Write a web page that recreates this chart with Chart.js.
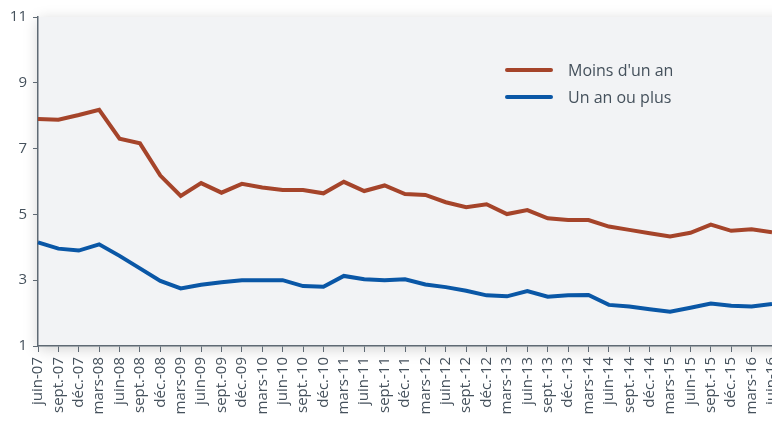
<!DOCTYPE html>
<html>
<head>
<meta charset="utf-8">
<script src="https://cdn.jsdelivr.net/npm/chart.js@4/dist/chart.umd.min.js"></script>
<style>
  html, body { margin: 0; padding: 0; background: #fff; }
  #wrap { width: 772px; height: 421px; }
</style>
</head>
<body>
<div id="wrap"><canvas id="graphique"></canvas></div>
<script>
// Trimestres
const trimestres = [
  'juin-07','sept.-07','déc.-07','mars-08','juin-08','sept.-08','déc.-08',
  'mars-09','juin-09','sept.-09','déc.-09','mars-10','juin-10','sept.-10','déc.-10',
  'mars-11','juin-11','sept.-11','déc.-11','mars-12','juin-12','sept.-12','déc.-12',
  'mars-13','juin-13','sept.-13','déc.-13','mars-14','juin-14','sept.-14','déc.-14',
  'mars-15','juin-15','sept.-15','déc.-15','mars-16','juin-16'
];

// Séries
const moinsUnAn = [
  7.90, 7.88, 8.02, 8.18, 7.30, 7.16, 6.18,
  5.56, 5.95, 5.66, 5.93, 5.82, 5.74, 5.74, 5.64,
  5.99, 5.71, 5.88, 5.62, 5.59, 5.37, 5.22, 5.31,
  5.01, 5.13, 4.88, 4.83, 4.83, 4.63, 4.53, 4.43,
  4.33, 4.44, 4.69, 4.50, 4.55, 4.46
];
const unAnOuPlus = [
  4.15, 3.96, 3.90, 4.09, 3.74, 3.36, 2.98,
  2.75, 2.86, 2.94, 3.00, 3.00, 3.00, 2.82, 2.80,
  3.13, 3.03, 3.00, 3.03, 2.87, 2.79, 2.68, 2.54,
  2.51, 2.67, 2.50, 2.54, 2.55, 2.25, 2.20, 2.12,
  2.04, 2.16, 2.29, 2.22, 2.20, 2.28
];
const ticksY = [1, 3, 5, 7, 9, 11];

const couleurTexte = '#45515c';
const couleurAxe = '#5f6a74';
const police = '"Open Sans", "Noto Sans", sans-serif';

// Fond gris de la zone de tracé, avec ombre
const fondZone = {
  id: 'fondZone',
  beforeDraw(chart) {
    const { ctx, chartArea: a } = chart;
    ctx.save();
    ctx.shadowColor = 'rgba(0,0,0,0.18)';
    ctx.shadowBlur = 14;
    ctx.shadowOffsetY = 3;
    ctx.fillStyle = '#f2f3f5';
    ctx.fillRect(a.left, a.top, a.right - a.left + 20, a.bottom - a.top);
    ctx.restore();
  }
};

// Légende dessinée dans la zone de tracé
const legendeInterne = {
  id: 'legendeInterne',
  afterDatasetsDraw(chart) {
    const ctx = chart.ctx;
    ctx.save();
    chart.data.datasets.forEach((ds, i) => {
      const y = 70 + i * 27;
      ctx.strokeStyle = ds.borderColor;
      ctx.lineWidth = 4;
      ctx.lineCap = 'round';
      ctx.beginPath();
      ctx.moveTo(507, y);
      ctx.lineTo(551, y);
      ctx.stroke();
      ctx.fillStyle = couleurTexte;
      ctx.font = '16px ' + police;
      ctx.textBaseline = 'middle';
      ctx.fillText(ds.label, 568, y + 1);
    });
    ctx.restore();
  }
};

new Chart(document.getElementById('graphique'), {
  type: 'line',
  data: {
    labels: trimestres,
    datasets: [
      {
        label: "Moins d'un an",
        data: moinsUnAn,
        borderColor: '#a5442a',
        borderWidth: 4,
        pointRadius: 0,
        tension: 0
      },
      {
        label: 'Un an ou plus',
        data: unAnOuPlus,
        borderColor: '#0a57a6',
        borderWidth: 4,
        pointRadius: 0,
        tension: 0
      }
    ]
  },
  options: {
    responsive: true,
    maintainAspectRatio: false,
    animation: false,
    layout: { padding: { top: 17, right: 0, left: 0, bottom: 0 } },
    plugins: {
      legend: { display: false },
      tooltip: { enabled: false }
    },
    scales: {
      x: {
        offset: false,
        grid: { display: true, drawOnChartArea: false, tickLength: 6, color: couleurAxe },
        border: { display: true, color: couleurAxe, width: 1.5 },
        ticks: {
          autoSkip: false,
          maxRotation: 90,
          minRotation: 90,
          padding: 5,
          color: couleurTexte,
          font: { family: police, size: 15 }
        },
        afterFit(s) {
          s.height = 75;
          s.paddingLeft = 0;
          s.paddingRight = 0;
        }
      },
      y: {
        min: 1,
        max: 11,
        afterBuildTicks(s) { s.ticks = ticksY.map(v => ({ value: v })); },
        grid: { display: true, drawOnChartArea: false, tickLength: 5, color: couleurAxe },
        border: { display: true, color: couleurAxe, width: 1.5 },
        ticks: {
          padding: 6,
          color: couleurTexte,
          font: { family: police, size: 15 }
        },
        afterFit(s) {
          s.width = 38;
          s.paddingTop = 0;
          s.paddingBottom = 0;
        }
      }
    }
  },
  plugins: [fondZone, legendeInterne]
});
</script>
</body>
</html>
